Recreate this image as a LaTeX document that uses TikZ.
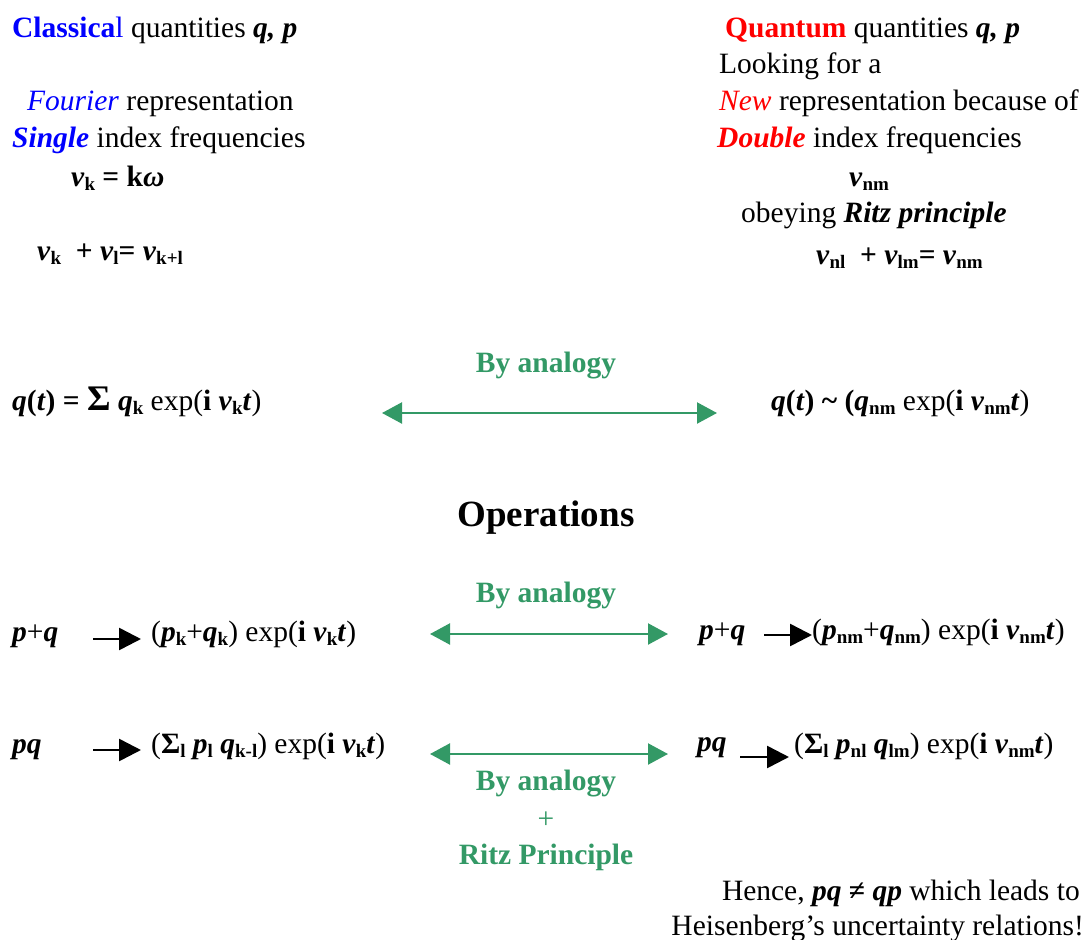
\documentclass[tikz,border=0pt]{standalone}
\usepackage{fontspec}
\setmainfont{Liberation Serif}
\usetikzlibrary{arrows.meta}
\definecolor{cblue}{RGB}{0,0,255}
\definecolor{cred}{RGB}{255,0,0}
\definecolor{cgreen}{RGB}{51,153,102}
\newcommand{\lsub}[1]{\raisebox{-4pt}{\fontsize{19}{19}\selectfont\textbf{#1}}}
\newcommand{\nub}{\textbf{\textit{ν}}}
\newcommand{\bi}[1]{\textbf{\textit{#1}}}
\newcommand{\bigsig}{{\fontsize{36}{36}\selectfont\textbf{Σ}}}
\tikzset{
  txt/.style={anchor=base west, inner sep=0pt, font=\fontsize{29.5}{35}\selectfont},
  rtxt/.style={anchor=base east, inner sep=0pt, font=\fontsize{29.5}{35}\selectfont},
  gtxt/.style={anchor=base, inner sep=0pt, text=cgreen, font=\fontsize{29.5}{35}\selectfont\bfseries},
  garrow/.style={draw=cgreen, line width=2.2pt, {Triangle[length=20pt,width=21pt]}-{Triangle[length=20pt,width=21pt]}},
  barrow/.style={draw=black, line width=2.6pt, -{Triangle[length=22pt,width=22pt]}}
}
\begin{document}
\begin{tikzpicture}[x=1pt,y=-1pt]
\useasboundingbox (0,0) rectangle (1088,940);
\begin{scope}[yshift=-2pt]
% left column
\node[txt] (cl) at (12,35) {\textcolor{cblue}{\textbf{Classica}l} quantities \bi{q, p}};
\node[txt] (fr) at (27,108) {\textcolor{cblue}{\textit{Fourier}} representation};
\node[txt] (si) at (12,145) {\textcolor{cblue}{\bi{Single}} index frequencies};
\node[txt] (nk) at (71,184) {\nub\lsub{k} \textbf{= k\textit{ω}}};
\node[txt] (rk) at (37,258) {\textbf{\nub\lsub{k}\ \ + \nub\lsub{l}= \nub\lsub{k+l}}};
% right column
\node[txt] (qu) at (725,35) {\textcolor{cred}{\textbf{Quantum}} quantities \bi{q, p}};
\node[txt] (lf) at (719,71) {Looking for a};
\node[txt] (nw) at (719,108) {\textcolor{cred}{\textit{New}} representation because of};
\node[txt] (db) at (717,145) {\textcolor{cred}{\bi{Double}} index frequencies};
\node[txt] (nnm) at (849,184) {\nub\lsub{nm}};
\node[txt] (ob) at (741,220) {obeying \bi{Ritz principle}};
\node[txt] (rz) at (816,262) {\textbf{\nub\lsub{nl}\ \ + \nub\lsub{lm}= \nub\lsub{nm}}};
% Fourier row
\node[gtxt] (ba1) at (546,370) {By analogy};
\node[txt] (qc) at (12,408) {\textbf{\textit{q}(\textit{t}) = \bigsig\ \textit{q}\lsub{k}} exp(\textbf{i} \nub\lsub{k}\bi{t})};
\node[txt] (qq) at (771,408) {\textbf{\textit{q}(\textit{t}) \char`\~{} (\textit{q}\lsub{nm}} exp(\textbf{i} \nub\lsub{nm}\bi{t})};
\coordinate (a1l) at (382,411);
\coordinate (a1r) at (717,411);
\draw[garrow] (a1l) -- (a1r);
% Operations
\node[anchor=base, inner sep=0pt, font=\fontsize{37}{42}\selectfont\bfseries] (op) at (546,524) {Operations};
\node[gtxt] (ba2) at (546,600) {By analogy};
\coordinate (a2l) at (430,632);
\coordinate (a2r) at (668,632);
\draw[garrow] (a2l) -- (a2r);
\node[txt] (pq1) at (12,639) {\bi{p}+\bi{q}};
\coordinate (b1s) at (93,637);
\coordinate (b1e) at (141,637);
\draw[barrow] (b1s) -- (b1e);
\node[txt] (pk) at (151,639) {(\bi{p}\lsub{k}+\bi{q}\lsub{k}) exp(\textbf{i} \nub\lsub{k}\bi{t})};
\node[txt] (pq2) at (699,637) {\bi{p}+\bi{q}};
\coordinate (b2s) at (764,633);
\coordinate (b2e) at (812,633);
\draw[barrow] (b2s) -- (b2e);
\node[txt] (pnm) at (812,637) {(\bi{p}\lsub{nm}+\bi{q}\lsub{nm}) exp(\textbf{i} \nub\lsub{nm}\bi{t})};
% product row
\node[txt] (pr1) at (12,751) {\bi{pq}};
\coordinate (b3s) at (93,748);
\coordinate (b3e) at (141,748);
\draw[barrow] (b3s) -- (b3e);
\node[txt] (sk) at (151,751) {(\textbf{Σ}\lsub{l} \bi{p}\lsub{l} \bi{q}\lsub{k-l}) exp(\textbf{i} \nub\lsub{k}\bi{t})};
\coordinate (a3l) at (430,752);
\coordinate (a3r) at (668,752);
\draw[garrow] (a3l) -- (a3r);
\node[txt] (pr2) at (697,749) {\bi{pq}};
\coordinate (b4s) at (740,755);
\coordinate (b4e) at (789,755);
\draw[barrow] (b4s) -- (b4e);
\node[txt] (snm) at (794,751) {(\textbf{Σ}\lsub{l} \bi{p}\lsub{nl} \bi{q}\lsub{lm}) exp(\textbf{i} \nub\lsub{nm}\bi{t})};
\node[gtxt] (ba3) at (546,788) {By analogy};
\node[gtxt, font=\fontsize{29.5}{35}\selectfont] (plus) at (546,826) {+};
\node[gtxt] (rp) at (546,862) {Ritz Principle};
% conclusion
\node[rtxt] (h1) at (1080,898) {Hence, \bi{pq} \textbf{≠} \bi{qp} which leads to};
\node[rtxt] (h2) at (1084,933) {Heisenberg’s uncertainty relations!};
\end{scope}
\end{tikzpicture}
\end{document}
